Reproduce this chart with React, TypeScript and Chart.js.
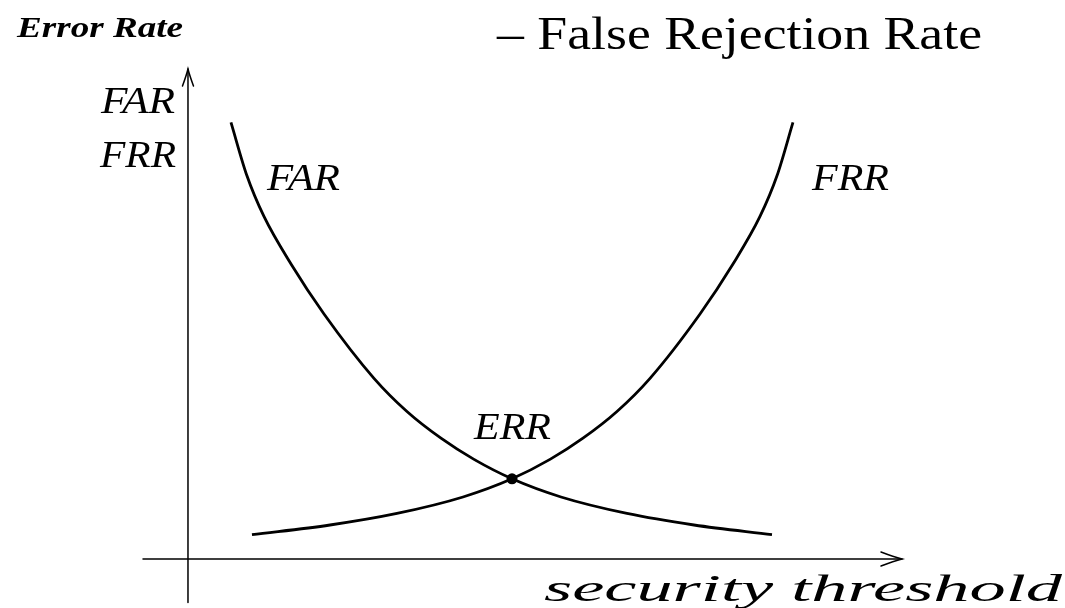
import React, { useEffect, useRef } from "react";
import { Chart, registerables } from "chart.js";

Chart.register(...registerables);

// security threshold (x) and error rate (y) samples
const farThreshold = [6.02, 8.26, 10.64, 14.43, 19.05, 26.05, 30.67, 35.43, 40.06, 45.38, 52.24, 61.48, 70.87, 81.79];
const farRate = [89.1, 78.2, 69.9, 60.2, 50.0, 36.87, 30.1, 24.65, 20.32, 16.36, 12.65, 9.29, 6.93, 4.95];
const frrThreshold = [8.96, 19.89, 29.27, 38.52, 45.38, 50.7, 55.32, 60.08, 64.71, 71.71, 76.33, 80.11, 82.49, 84.73];
const frrRate = [4.95, 6.93, 9.29, 12.65, 16.36, 20.32, 24.65, 30.1, 36.87, 50.0, 60.2, 69.9, 78.2, 89.1];
const errThreshold = [45.38];
const errRate = [16.36];

const titleText = "Error Rate";
const headingText = "– False Rejection Rate";
const yAxisLabels = ["FAR", "FRR"];
const xAxisLabel = "security threshold";
const curveLabels = ["FAR", "FRR"];
const errLabel = "ERR";

const toPoints = (xs: number[], ys: number[]) => xs.map((x, i) => ({ x, y: ys[i] }));

const SERIF = "'Liberation Serif', 'Times New Roman', Times, serif";
const MATH_FONT = "italic 37px " + SERIF;

function fitText(ctx: CanvasRenderingContext2D, text: string, font: string, x: number, y: number, w: number) {
  ctx.font = font;
  const m = ctx.measureText(text).width;
  ctx.save();
  ctx.translate(x, y);
  ctx.scale(w / m, 1);
  ctx.textAlign = "left";
  ctx.textBaseline = "alphabetic";
  ctx.fillText(text, 0, 0);
  ctx.restore();
}

const axesPlugin = {
  id: "axesAndLabels",
  beforeDatasetsDraw(chart: any) {
    const ctx: CanvasRenderingContext2D = chart.ctx;
    const xs = chart.scales.x;
    const ys = chart.scales.y;
    const ox = xs.getPixelForValue(0);
    const oy = ys.getPixelForValue(0);
    const xl = xs.getPixelForValue(xs.min);
    const xr = xs.getPixelForValue(100);
    const yb = ys.getPixelForValue(ys.min);
    const yt = ys.getPixelForValue(100);
    ctx.save();
    ctx.strokeStyle = "#000";
    ctx.lineWidth = 1.5;
    ctx.lineCap = "round";
    ctx.beginPath();
    ctx.moveTo(xl, oy);
    ctx.lineTo(xr, oy);
    ctx.moveTo(ox, yb);
    ctx.lineTo(ox, yt);
    ctx.stroke();
    // arrowheads
    ctx.beginPath();
    ctx.moveTo(xr - 21, oy - 7);
    ctx.quadraticCurveTo(xr - 8, oy - 2, xr, oy);
    ctx.quadraticCurveTo(xr - 8, oy + 2, xr - 21, oy + 7);
    ctx.moveTo(ox - 5.5, yt + 17);
    ctx.quadraticCurveTo(ox - 1.5, yt + 6, ox, yt);
    ctx.quadraticCurveTo(ox + 1.5, yt + 6, ox + 5.5, yt + 17);
    ctx.stroke();
    ctx.restore();
  },
  afterDraw(chart: any) {
    const ctx: CanvasRenderingContext2D = chart.ctx;
    ctx.save();
    ctx.fillStyle = "#000";
    fitText(ctx, titleText, "italic bold 30px " + SERIF, 17, 37, 166);
    fitText(ctx, headingText, "46px " + SERIF, 497, 49, 485);
    fitText(ctx, yAxisLabels[0], MATH_FONT, 101, 113, 74);
    fitText(ctx, yAxisLabels[1], MATH_FONT, 100, 167, 76);
    fitText(ctx, curveLabels[0], MATH_FONT, 267, 190, 73);
    fitText(ctx, curveLabels[1], MATH_FONT, 812, 190, 77);
    fitText(ctx, errLabel, MATH_FONT, 474, 439, 77);
    fitText(ctx, xAxisLabel, "italic 38px " + SERIF, 544, 601, 518);
    ctx.restore();
  },
};

export default function App() {
  const ref = useRef<HTMLCanvasElement | null>(null);
  useEffect(() => {
    if (!ref.current) return;
    const chart = new Chart(ref.current, {
      type: "scatter",
      data: {
        datasets: [
          {
            label: "FAR",
            data: toPoints(farThreshold, farRate),
            showLine: true,
            borderColor: "#000",
            borderWidth: 2.8,
            pointRadius: 0,
            cubicInterpolationMode: "monotone",
          },
          {
            label: "FRR",
            data: toPoints(frrThreshold, frrRate),
            showLine: true,
            borderColor: "#000",
            borderWidth: 2.8,
            pointRadius: 0,
            cubicInterpolationMode: "monotone",
          },
          {
            label: "ERR",
            data: toPoints(errThreshold, errRate),
            showLine: false,
            pointRadius: 5.5,
            pointBackgroundColor: "#000",
            pointBorderColor: "#000",
            pointBorderWidth: 0,
          },
        ],
      } as any,
      options: {
        animation: false,
        responsive: false,
        maintainAspectRatio: false,
        layout: { padding: { left: 143, right: 163, top: 69, bottom: 0 } },
        plugins: { legend: { display: false }, tooltip: { enabled: false } },
        scales: {
          x: { type: "linear", min: -6.3, max: 100, display: false },
          y: { type: "linear", min: -8.89, max: 100, display: false },
        },
      },
      plugins: [axesPlugin],
    });
    return () => chart.destroy();
  }, []);
  return (
    <div style={{ position: "fixed", left: 0, top: 0, width: 1065, height: 608, background: "#fff" }}>
      <canvas ref={ref} width={1065} height={608} style={{ display: "block" }} />
    </div>
  );
}
